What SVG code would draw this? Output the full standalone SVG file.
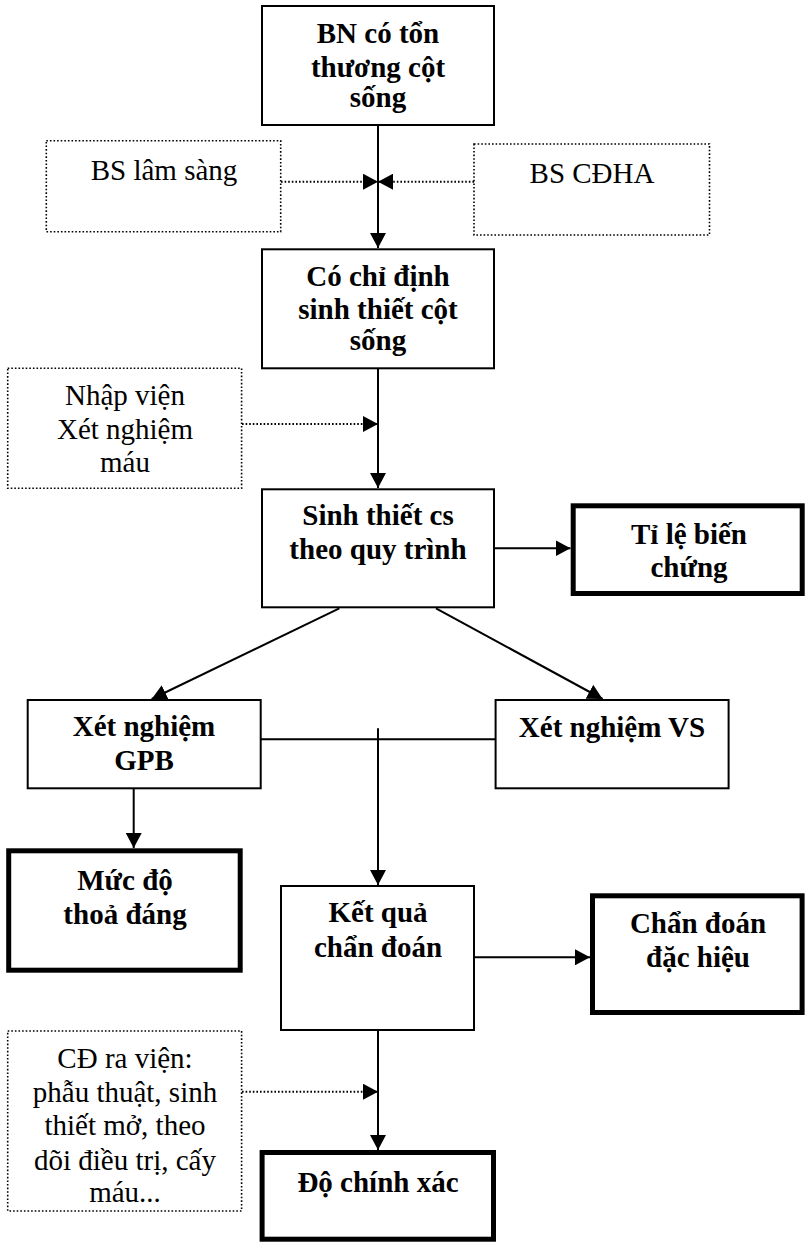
<svg xmlns="http://www.w3.org/2000/svg" width="806" height="1243" viewBox="0 0 806 1243">
<style>
.box{fill:#fff;stroke:#000;stroke-width:2}
.thick{fill:#fff;stroke:#000;stroke-width:5}
.dot{fill:#fff;stroke:#000;stroke-width:1.6;stroke-dasharray:1.6 2}
.b{font-family:"Liberation Serif","Times New Roman",serif;font-weight:bold;font-size:29px;text-anchor:middle;fill:#000}
.r{font-family:"Liberation Serif","Times New Roman",serif;font-size:29px;text-anchor:middle;fill:#000}
.ln{stroke:#000;stroke-width:2;fill:none}
.dl{stroke:#000;stroke-width:2;fill:none;stroke-dasharray:1.6 2}
</style>
<defs>
<marker id="ah" markerUnits="userSpaceOnUse" markerWidth="16" markerHeight="16" refX="15" refY="8" orient="auto">
<path d="M0,0 L15,8 L0,16 z" fill="#000"/>
</marker>
</defs>
<g id="connectors">
<line class="ln" x1="378" y1="126" x2="378" y2="248" marker-end="url(#ah)"/>
<line class="dl" x1="281" y1="181.7" x2="378" y2="181.7" marker-end="url(#ah)"/>
<line class="dl" x1="474" y1="181.7" x2="378" y2="181.7" marker-end="url(#ah)"/>
<line class="ln" x1="378" y1="369" x2="378" y2="488" marker-end="url(#ah)"/>
<line class="dl" x1="242" y1="424" x2="378" y2="424" marker-end="url(#ah)"/>
<line class="ln" x1="495" y1="548.3" x2="570.5" y2="548.3" marker-end="url(#ah)"/>
<line class="ln" x1="339.3" y1="608.3" x2="151.7" y2="699" marker-end="url(#ah)"/>
<line class="ln" x1="436" y1="608.3" x2="602.6" y2="699" marker-end="url(#ah)"/>
<line class="ln" x1="261" y1="739.3" x2="495" y2="739.3"/>
<line class="ln" x1="378" y1="728.3" x2="378" y2="885" marker-end="url(#ah)"/>
<line class="ln" x1="133.7" y1="789" x2="133.7" y2="848" marker-end="url(#ah)"/>
<line class="ln" x1="475" y1="957.3" x2="590" y2="957.3" marker-end="url(#ah)"/>
<line class="ln" x1="378" y1="1031" x2="378" y2="1150" marker-end="url(#ah)"/>
<line class="dl" x1="242" y1="1091.7" x2="378" y2="1091.7" marker-end="url(#ah)"/>
</g>
<g id="n1">
<rect class="box" x="262" y="6" width="232" height="119"/>
<text class="b" x="378" y="43">BN có tổn</text>
<text class="b" x="378" y="77">thương cột</text>
<text class="b" x="378" y="107">sống</text>
</g>
<g id="bsls">
<rect class="dot" x="46.3" y="140.7" width="234.4" height="91"/>
<text class="r" x="164" y="180">BS lâm sàng</text>
</g>
<g id="bscdha">
<rect class="dot" x="474" y="144" width="235.5" height="91"/>
<text class="r" x="592" y="182.7">BS CĐHA</text>
</g>
<g id="n2">
<rect class="box" x="262" y="249.3" width="232" height="119"/>
<text class="b" x="378" y="285.7">Có chỉ định</text>
<text class="b" x="378" y="319">sinh thiết cột</text>
<text class="b" x="378" y="350">sống</text>
</g>
<g id="nhapvien">
<rect class="dot" x="7.7" y="368.3" width="233.9" height="120"/>
<text class="r" x="125" y="405">Nhập viện</text>
<text class="r" x="125" y="439">Xét nghiệm</text>
<text class="r" x="125" y="472">máu</text>
</g>
<g id="n3">
<rect class="box" x="262" y="489.3" width="232" height="118"/>
<text class="b" x="378" y="525">Sinh thiết cs</text>
<text class="b" x="378" y="559">theo quy trình</text>
</g>
<g id="tile">
<rect class="thick" x="573.2" y="505.8" width="229" height="87.7"/>
<text class="b" x="689" y="544">Tỉ lệ biến</text>
<text class="b" x="689" y="577.3">chứng</text>
</g>
<g id="gpb">
<rect class="box" x="27.7" y="700" width="233" height="88.3"/>
<text class="b" x="144" y="736">Xét nghiệm</text>
<text class="b" x="144" y="770">GPB</text>
</g>
<g id="vs">
<rect class="box" x="495.6" y="700" width="233" height="88.3"/>
<text class="b" x="612" y="736.7">Xét nghiệm VS</text>
</g>
<g id="mucdo">
<rect class="thick" x="8.7" y="850.8" width="231.5" height="119.4"/>
<text class="b" x="125" y="890">Mức độ</text>
<text class="b" x="125" y="924.3">thoả đáng</text>
</g>
<g id="ketqua">
<rect class="box" x="281" y="886" width="193" height="144"/>
<text class="b" x="378" y="921.7">Kết quả</text>
<text class="b" x="378" y="957.3">chẩn đoán</text>
</g>
<g id="chandoan">
<rect class="thick" x="592.5" y="895.8" width="209.6" height="116.7"/>
<text class="b" x="698" y="933.3">Chẩn đoán</text>
<text class="b" x="698" y="966.7">đặc hiệu</text>
</g>
<g id="cdravien">
<rect class="dot" x="7.7" y="1031" width="233.9" height="180"/>
<text class="r" x="125" y="1068.3">CĐ ra viện:</text>
<text class="r" x="125" y="1101.7">phẫu thuật, sinh</text>
<text class="r" x="125" y="1135">thiết mở, theo</text>
<text class="r" x="125" y="1170">dõi điều trị, cấy</text>
<text class="r" x="125" y="1201.7">máu...</text>
</g>
<g id="dochinhxac">
<rect class="thick" x="262.1" y="1152.5" width="231.4" height="86.7"/>
<text class="b" x="378" y="1191.7">Độ chính xác</text>
</g>
</svg>
